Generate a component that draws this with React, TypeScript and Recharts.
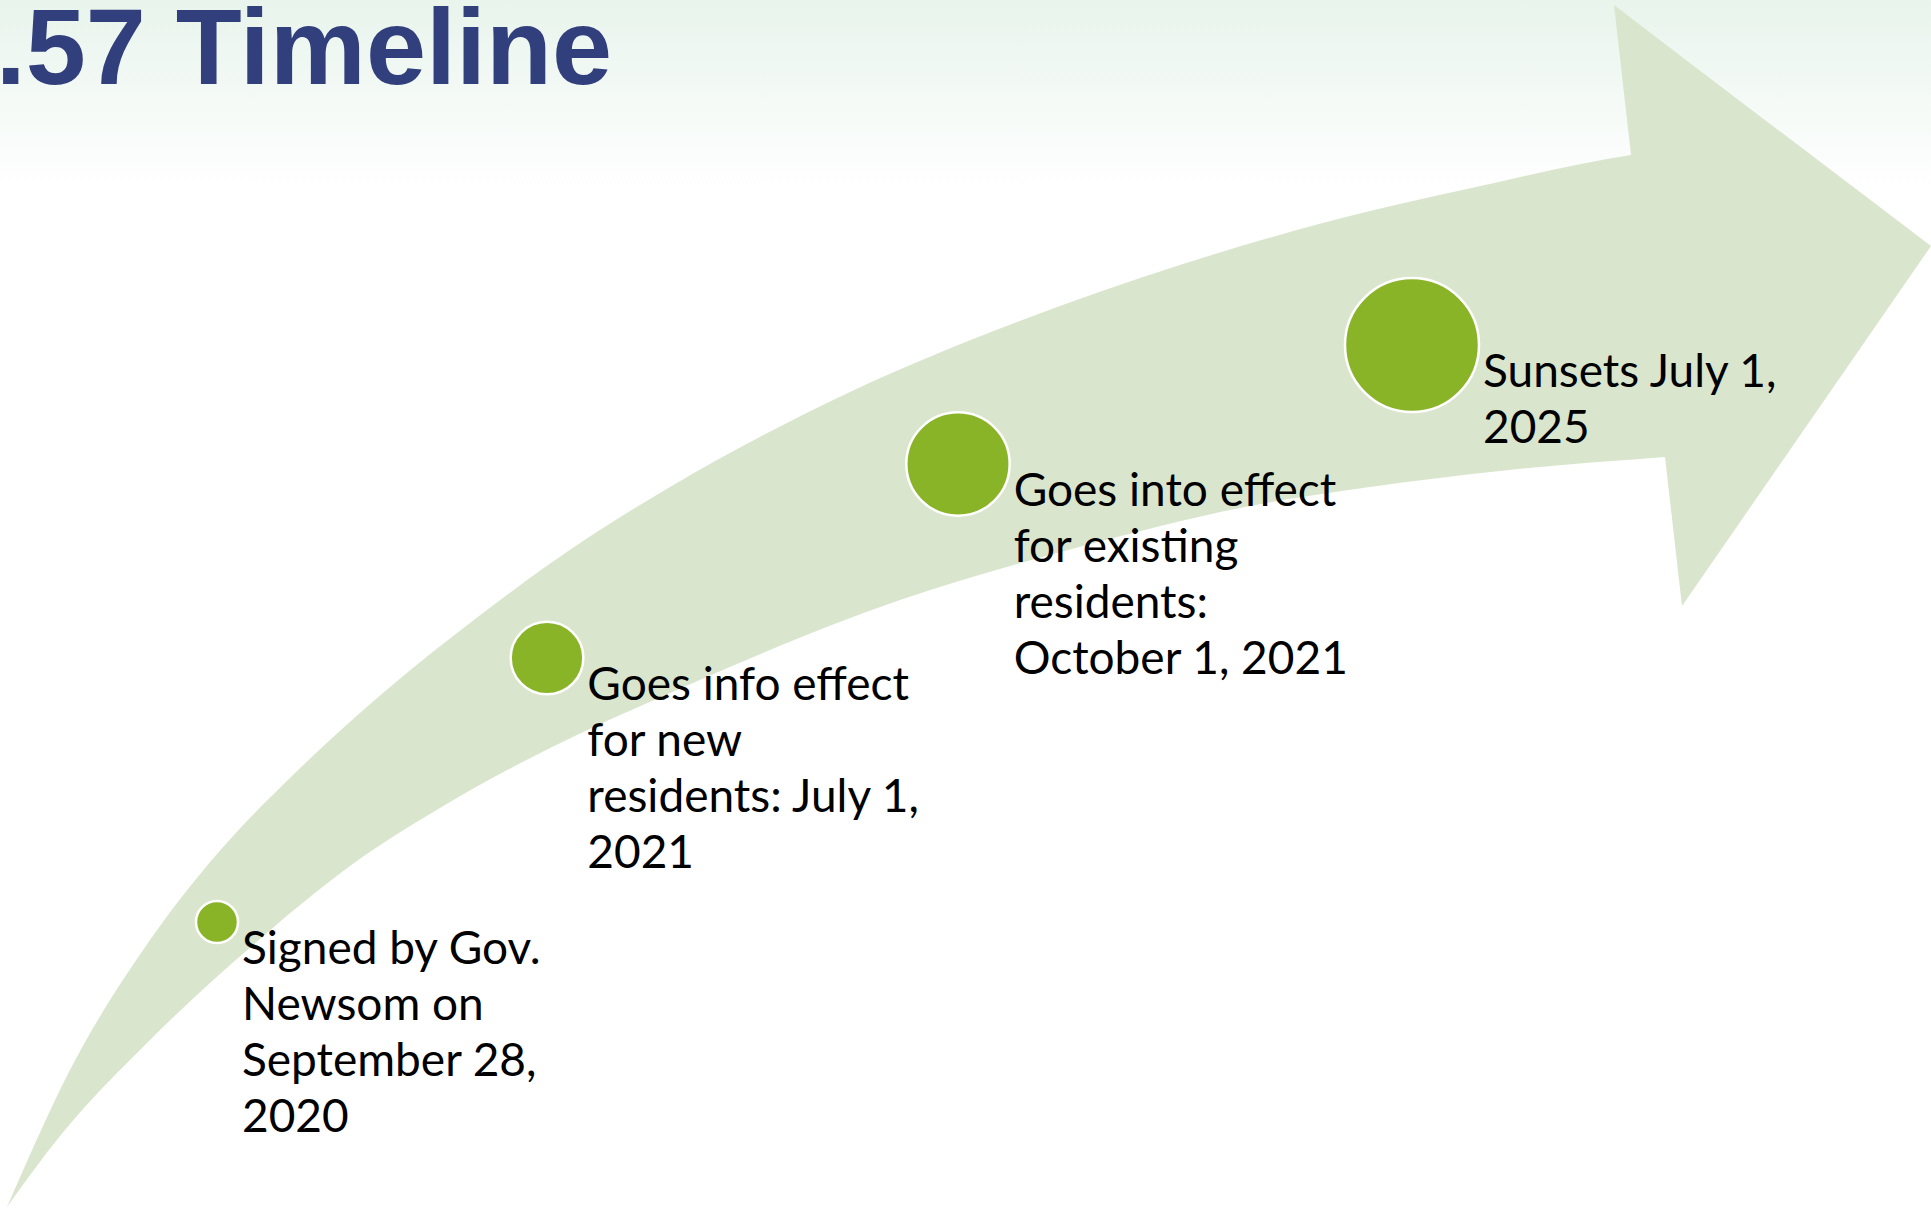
import { ComposedChart, Area, Scatter, XAxis, YAxis, ZAxis } from 'recharts'

const W = 1931
const H = 1208

// arrow body (diagram units = px of the slide)
const upperEdgeX = [7, 70, 150, 217, 293, 383, 483, 583, 670, 850, 1017, 1183, 1370, 1467, 1631, 1665]
const upperEdgeY = [1207, 1070, 940, 854, 775, 693, 613, 541, 487, 392, 322, 264, 211, 189, 155, 150]
const lowerEdgeX = [7, 60, 150, 253, 350, 450, 550, 670, 900, 1083, 1250, 1370, 1500, 1665]
const lowerEdgeY = [1207, 1136, 1040, 945, 866, 802, 748, 693, 600, 546, 506, 487, 471, 457]

// arrow head outline: top edge and bottom edge at the same x
const headX = [1614, 1631, 1665, 1682, 1931]
const headTop = [5, 18, 44, 57, 246]
const headBottom = [5, 155, 457, 606, 246]

// milestones
const milestoneX = [217, 547, 958, 1412]
const milestoneY = [922, 658, 464, 345]
const milestoneStage = [1, 2, 3, 4]
const milestoneLabels = [
  ['Signed by Gov.', 'Newsom on', 'September 28,', '2020'],
  ['Goes info effect', 'for new', 'residents: July 1,', '2021'],
  ['Goes into effect', 'for existing', 'residents:', 'October 1, 2021'],
  ['Sunsets July 1,', '2025'],
]

const upperData = upperEdgeX.map((x, i) => ({ x, y: upperEdgeY[i] }))
const lowerData = lowerEdgeX.map((x, i) => ({ x, y: lowerEdgeY[i] }))
const headData = headX.map((x, i) => ({ x, span: [headTop[i], headBottom[i]] }))
const milestones = milestoneX.map((x, i) => ({
  x,
  y: milestoneY[i],
  stage: milestoneStage[i],
  lines: milestoneLabels[i],
}))

const ARROW = '#DAE5CD'
const DOT = '#8AB428'

function Milestone(props: any) {
  const { cx, cy, payload } = props
  const r = typeof props.size === 'number' ? props.size : props.width / 2
  return (
    <g>
      <circle cx={cx} cy={cy} r={r - 1} fill={DOT} stroke="#FFFFFF" strokeWidth={2.5} />
      <text x={cx + r + 3} y={cy + 42} fontFamily="Lato, 'Open Sans', sans-serif" fontSize={46} fill="#000000">
        {payload.lines.map((line: string, i: number) => (
          <tspan key={i} x={cx + r + 3} dy={i === 0 ? 0 : 56}>
            {line}
          </tspan>
        ))}
      </text>
    </g>
  )
}

export default function App() {
  return (
    <div
      style={{
        position: 'fixed',
        left: 0,
        top: 0,
        width: W,
        height: H,
        background: 'linear-gradient(to bottom, #E8F4EC 0px, #FFFFFF 190px)',
        overflow: 'hidden',
      }}
    >
      <ComposedChart width={W} height={H} margin={{ top: 0, right: 0, bottom: 0, left: 0 }}>
        <XAxis type="number" dataKey="x" domain={[0, W]} hide allowDataOverflow />
        <YAxis type="number" domain={[0, H]} reversed hide allowDataOverflow />
        <ZAxis type="number" dataKey="stage" domain={[1, 4]} range={[22, 68]} />
        <Area
          data={upperData}
          dataKey="y"
          type="monotone"
          baseValue={H}
          fill={ARROW}
          fillOpacity={1}
          stroke="none"
          dot={false}
          activeDot={false}
          isAnimationActive={false}
        />
        <Area
          data={lowerData}
          dataKey="y"
          type="monotone"
          baseValue={H}
          fill="#FFFFFF"
          fillOpacity={1}
          stroke="none"
          dot={false}
          activeDot={false}
          isAnimationActive={false}
        />
        <Area
          data={headData}
          dataKey="span"
          type="linear"
          fill={ARROW}
          fillOpacity={1}
          stroke="none"
          dot={false}
          activeDot={false}
          isAnimationActive={false}
        />
        <Scatter data={milestones} dataKey="y" shape={Milestone} isAnimationActive={false} />
        <text
          x={612}
          y={84}
          textAnchor="end"
          fontFamily="'Liberation Sans', Arial, sans-serif"
          fontWeight="bold"
          fontSize={108}
          fill="#323F7D"
        >
          .57 Timeline
        </text>
      </ComposedChart>
    </div>
  )
}
